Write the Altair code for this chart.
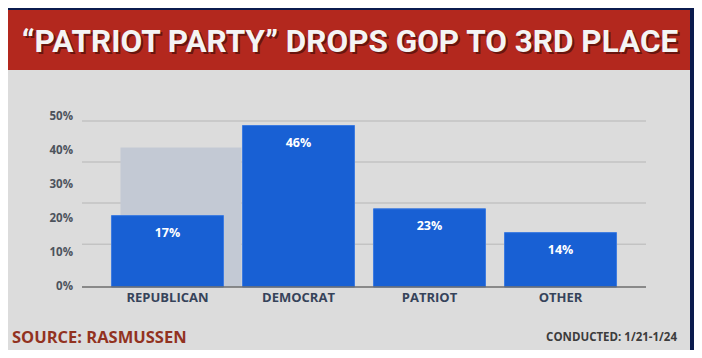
import altair as alt
import pandas as pd

# ---- data ----
categories = ["REPUBLICAN", "DEMOCRAT", "PATRIOT", "OTHER"]
bar_heights = [21, 47.5, 23, 16]          # drawn heights, in axis percent
bar_labels = ["17%", "46%", "23%", "14%"]  # printed labels
ghost_category = ["REPUBLICAN"]
ghost_height = [41]
axis_ticks = [0, 10, 20, 30, 40, 50]
axis_tick_labels = ["0%", "10%", "20%", "30%", "40%", "50%"]
grid_values = [12.6, 24.7, 36.8, 48.8]

title_text = "\u201cPATRIOT PARTY\u201d DROPS GOP TO 3RD PLACE"
source_text = "SOURCE: RASMUSSEN"
conducted_text = "CONDUCTED: 1/21-1/24"

bars_df = pd.DataFrame({"party": categories, "value": bar_heights, "label": bar_labels})
ghost_df = pd.DataFrame({"party": ghost_category, "value": ghost_height})
ticks_df = pd.DataFrame({"t": axis_ticks, "lab": axis_tick_labels})
grid_df = pd.DataFrame({"g": grid_values})
base_df = pd.DataFrame({"g": [0]})
one = pd.DataFrame({"a": [0]})

NAVY = "#0b1b4d"
PANEL = "#dcdcdc"
RED = "#b3281e"
BLUE = "#1860d4"

xscale = alt.Scale(domain=categories, paddingInner=0.145, paddingOuter=0.225)
yscale = alt.Scale(domain=[0, 50], nice=False, zero=True)


def X(field="party:N"):
    return alt.X(field, scale=xscale, sort=categories, axis=None)


def Y(field):
    return alt.Y(field, scale=yscale, axis=None)


panel = alt.Chart(one).mark_rect(color=PANEL).encode(
    x=alt.value(-77), x2=alt.value(608), y=alt.value(-47), y2=alt.value(235))
banner = alt.Chart(one).mark_rect(color=RED).encode(
    x=alt.value(-82), x2=alt.value(608), y=alt.value(-107), y2=alt.value(-47))
title_shadow = alt.Chart(one).mark_text(
    text=title_text, font="Roboto", fontWeight="bold", fontSize=31.5,
    color="#4a0d08", align="center", baseline="middle", opacity=0.7).encode(
    x=alt.value(270), y=alt.value(-72))
title = alt.Chart(one).mark_text(
    text=title_text, font="Roboto", fontWeight="bold", fontSize=31.5,
    color="#f4f4f4", align="center", baseline="middle").encode(
    x=alt.value(268), y=alt.value(-74))

grid = alt.Chart(grid_df).mark_rule(color="#c3c3c3", strokeWidth=1.5).encode(y=Y("g:Q"))

ghost = alt.Chart(ghost_df).mark_bar(color="#c3c9d4", width=121, xOffset=13.5).encode(
    x=X(), y=Y("value:Q"))

bars = alt.Chart(bars_df).mark_bar(color=BLUE, stroke="#3d7be0", strokeWidth=1).encode(
    x=X(), y=Y("value:Q"))

baseline = alt.Chart(base_df).mark_rule(color="#6e6e6e", strokeWidth=1.5).encode(y=Y("g:Q"))

labels = alt.Chart(bars_df).mark_text(
    color="#ffffff", font="Open Sans", fontWeight="bold", fontSize=12.5,
    baseline="middle", dy=17).encode(x=X(), y=Y("value:Q"), text="label:N")

ylabels = alt.Chart(ticks_df).mark_text(
    color="#4d535c", font="Open Sans", fontWeight="bold", fontSize=11.5,
    align="right", baseline="middle").encode(
    x=alt.value(-9), y=Y("t:Q"), text="lab:N")

xlabels = alt.Chart(bars_df).mark_text(
    color="#36435a", font="Open Sans", fontWeight="bold", fontSize=13,
    align="center", baseline="middle").encode(
    x=X(), y=alt.value(181), text="party:N")

source = alt.Chart(one).mark_text(
    text=source_text, font="Open Sans", fontWeight="bold", fontSize=16.5,
    color="#92321f", align="left", baseline="middle").encode(
    x=alt.value(-70), y=alt.value(221))
conducted = alt.Chart(one).mark_text(
    text=conducted_text, font="Open Sans", fontWeight="bold", fontSize=11.5,
    color="#3c3c3c", align="right", baseline="middle").encode(
    x=alt.value(595), y=alt.value(221))

chart = alt.layer(
    panel, banner, title_shadow, title, grid, ghost, bars, baseline, labels,
    ylabels, xlabels, source, conducted
).properties(
    width=564, height=170,
    padding={"left": 74, "top": 109, "right": 48, "bottom": 63},
    autosize=alt.AutoSizeParams(type="none"),
    background=NAVY,
).configure_view(stroke=None)

chart.save("out.html", embed_options={"renderer": "svg", "actions": False})
